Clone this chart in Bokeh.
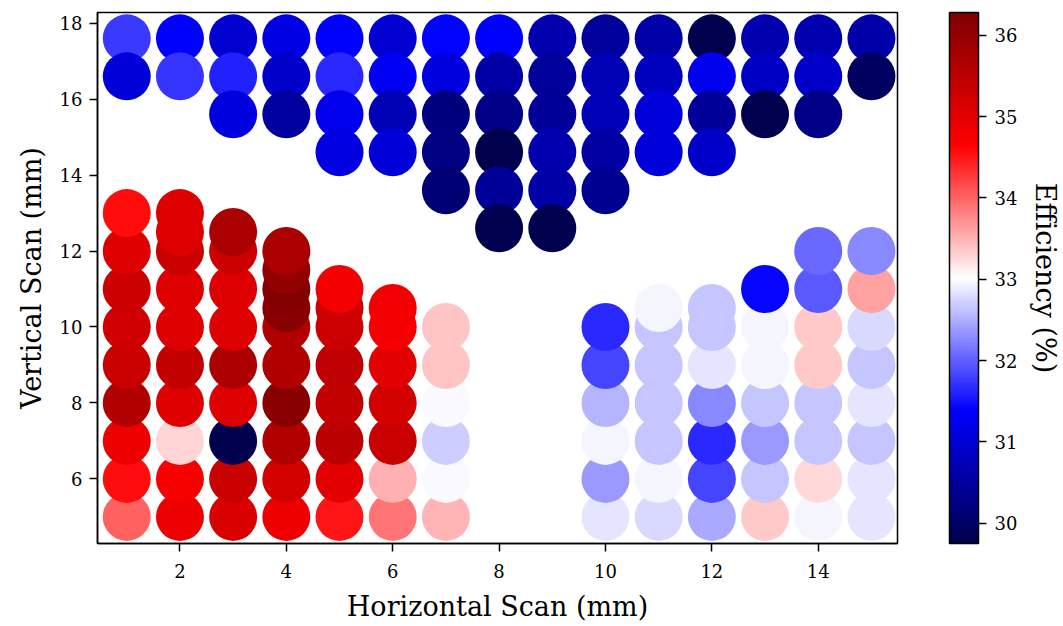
import numpy as np
from bokeh.plotting import figure
from bokeh.models import (LinearColorMapper, ColorBar, FixedTicker, LinearAxis,
                          Range1d, ColumnDataSource)
from bokeh.embed import file_html
from bokeh.resources import INLINE

FONT = "DejaVu Serif"

# ---------------- data ----------------
# upper (blue) region, rows drawn from the top down
scan_x_top = (list(range(1, 16)) + list(range(1, 16)) + list(range(3, 15))
              + list(range(5, 13)) + [7, 8, 9, 10] + [8, 9])
scan_y_top = ([17.6] * 15 + [16.6] * 15 + [15.6] * 12 + [14.6] * 8 + [13.6] * 4 + [12.6] * 2)
eff_top = [
    31.74, 31.38, 30.95, 31.14, 31.36, 30.97, 31.40, 31.38, 30.66, 30.47, 30.61, 29.78, 30.66, 30.66, 30.61,
    31.03, 31.72, 31.60, 30.92, 31.64, 31.29, 31.10, 30.59, 30.48, 30.71, 30.81, 31.23, 30.85, 30.88, 29.93,
    31.10, 30.51, 31.23, 30.71, 30.22, 30.30, 30.44, 30.73, 31.07, 30.46, 29.78, 30.30,
    31.12, 31.04, 30.26, 29.76, 30.66, 30.56, 31.07, 30.92,
    30.12, 30.46, 30.59, 30.37,
    29.78, 29.78,
]

# lower region, column by column, bottom up
scan_x_low = ([1] * 9 + [2] * 10 + [3] * 9 + [4] * 10 + [5] * 8 + [6] * 7 + [7] * 6
              + [10] * 6 + [11] * 7 + [12] * 7 + [13] * 7 + [14] * 8 + [15] * 8)
scan_y_low = (
    [5, 6, 7, 8, 9, 10, 11, 12, 13]
    + [5, 6, 7, 8, 9, 10, 11, 12, 12.5, 13]
    + [5, 6, 7, 8, 9, 10, 11, 12, 12.5]
    + [5, 6, 7, 8, 9, 10, 10.5, 11, 11.5, 12]
    + [5, 6, 7, 8, 9, 10, 10.5, 11]
    + [5, 6, 7, 8, 9, 10, 10.5]
    + [5, 6, 7, 8, 9, 10]
    + [5, 6, 7, 8, 9, 10]
    + [5, 6, 7, 8, 9, 10, 10.5]
    + [5, 6, 7, 8, 9, 10, 10.5]
    + [5, 6, 7, 8, 9, 10, 11]
    + [5, 6, 7, 8, 9, 10, 11, 12]
    + [5, 6, 7, 8, 9, 10, 11, 12]
)
eff_low = (
    [34.03, 34.55, 34.87, 35.66, 35.36, 35.25, 35.30, 35.08, 34.55]
    + [34.87, 34.74, 33.29, 35.08, 35.39, 35.08, 35.08, 35.36, 35.08, 35.08]
    + [35.15, 35.36, 29.78, 35.08, 35.74, 35.08, 35.08, 35.30, 35.74]
    + [34.87, 35.19, 35.66, 36.17, 35.66, 35.66, 36.17, 36.21, 36.01, 35.74]
    + [34.51, 34.98, 35.52, 35.39, 35.48, 35.30, 35.28, 34.78]
    + [33.90, 33.52, 35.36, 35.19, 34.98, 34.76, 34.76]
    + [33.49, 32.97, 32.69, 32.97, 33.39, 33.39]
    + [32.85, 32.37, 32.94, 32.54, 31.84, 31.64]
    + [32.78, 32.94, 32.64, 32.64, 32.64, 32.64, 32.94]
    + [32.47, 31.84, 31.64, 32.25, 32.85, 32.64, 32.64]
    + [33.37, 32.64, 32.37, 32.64, 32.94, 32.94, 31.43]
    + [32.94, 33.26, 32.64, 32.64, 33.37, 33.37, 31.96, 32.05]
    + [32.85, 32.85, 32.64, 32.85, 32.64, 32.78, 33.62, 32.25]
)

x_ticks = [2, 4, 6, 8, 10, 12, 14]
y_ticks = [6, 8, 10, 12, 14, 16, 18]
cbar_ticks = [30, 31, 32, 33, 34, 35, 36]
eff_low_lim, eff_high_lim = 29.75, 36.28

# ---------------- seismic colormap ----------------
anchors = [(0.0, (0, 0, 0.3)), (0.25, (0, 0, 1)), (0.5, (1, 1, 1)),
           (0.75, (1, 0, 0)), (1.0, (0.5, 0, 0))]
palette = []
for i in range(256):
    t = i / 255
    for (t0, c0), (t1, c1) in zip(anchors[:-1], anchors[1:]):
        if t0 <= t <= t1:
            f = (t - t0) / (t1 - t0)
            rgb = [c0[k] + f * (c1[k] - c0[k]) for k in range(3)]
            break
    palette.append("#%02x%02x%02x" % tuple(int(round(255 * v)) for v in rgb))

mapper = LinearColorMapper(palette=palette, low=eff_low_lim, high=eff_high_lim)

src = ColumnDataSource(dict(x=scan_x_top + scan_x_low,
                            y=scan_y_top + scan_y_low,
                            eff=eff_top + eff_low))

p = figure(width=1063, height=626, output_backend="svg", toolbar_location=None,
           x_range=Range1d(0.45, 15.49), y_range=Range1d(4.30, 18.28),
           min_border_left=97, min_border_right=165, min_border_top=12,
           min_border_bottom=83)

p.scatter("x", "y", source=src, size=48, line_color=None,
          fill_color={"field": "eff", "transform": mapper})

p.xgrid.visible = False
p.ygrid.visible = False
p.outline_line_color = "black"
p.outline_line_width = 1.5
p.outline_line_alpha = 1.0
p.background_fill_color = "white"
p.border_fill_color = "white"

p.xaxis.ticker = FixedTicker(ticks=x_ticks)
p.yaxis.ticker = FixedTicker(ticks=y_ticks)
p.xaxis.axis_label = "Horizontal Scan (mm)"
p.yaxis.axis_label = "Vertical Scan (mm)"
for ax in (p.xaxis[0], p.yaxis[0]):
    ax.axis_line_color = "black"
    ax.axis_line_width = 1.5
    ax.major_tick_in = 0
    ax.major_tick_out = 8
    ax.major_tick_line_width = 1.5
    ax.minor_tick_in = 0
    ax.minor_tick_out = 0
    ax.major_label_text_font = FONT
    ax.major_label_text_font_size = "18px"
    ax.major_label_text_color = "black"
    ax.axis_label_text_font = FONT
    ax.axis_label_text_font_size = "27px"
    ax.axis_label_text_font_style = "normal"
    ax.axis_label_text_color = "black"
p.xaxis.major_label_standoff = 12
p.yaxis.major_label_standoff = 7
p.xaxis.axis_label_standoff = 10
p.yaxis.axis_label_standoff = 10

# empty spacer between the plot frame and the colour bar
spacer = LinearAxis(ticker=FixedTicker(ticks=[]), axis_line_color=None,
                    major_tick_line_color=None, minor_tick_line_color=None,
                    major_tick_out=0, minor_tick_out=0,
                    axis_label=" ", axis_label_text_font_size="1px",
                    axis_label_standoff=48)
p.add_layout(spacer, "right")

cbar = ColorBar(color_mapper=mapper, width=29, height=531,
                ticker=FixedTicker(ticks=cbar_ticks),
                major_tick_in=0, major_tick_out=8, major_tick_line_color="black",
                major_tick_line_width=1.5,
                minor_tick_line_color=None,
                bar_line_color="black", bar_line_width=1.5,
                border_line_color=None, background_fill_color=None,
                major_label_text_font=FONT, major_label_text_font_size="18px",
                major_label_text_color="black", label_standoff=8,
                padding=0, margin=0)
p.add_layout(cbar, "right")

lab_axis = LinearAxis(ticker=FixedTicker(ticks=[]), axis_line_color=None,
                      major_tick_line_color=None, minor_tick_line_color=None,
                      axis_label="Efficiency (%)", axis_label_text_font=FONT,
                      axis_label_text_font_size="27px",
                      axis_label_text_font_style="normal",
                      axis_label_text_color="black", axis_label_standoff=9)
p.add_layout(lab_axis, "right")

open("out.html", "w").write(file_html(p, INLINE))
